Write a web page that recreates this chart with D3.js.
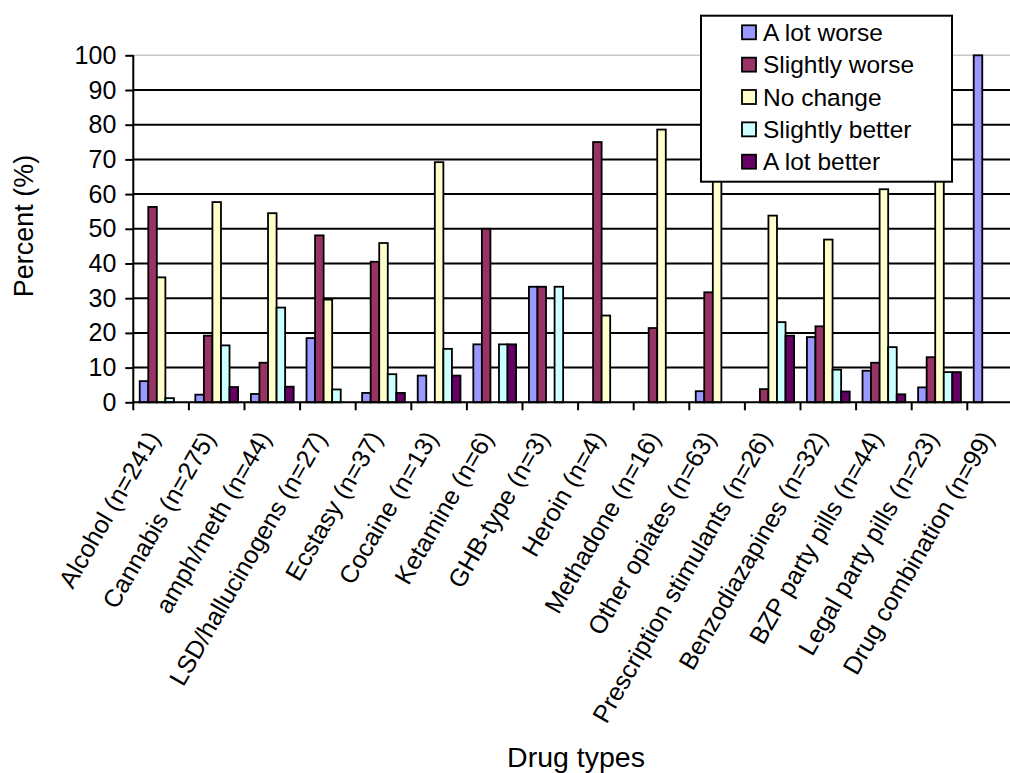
<!DOCTYPE html>
<html>
<head>
<meta charset="utf-8">
<script src="https://cdn.jsdelivr.net/npm/d3@7"></script>
<style>
  html, body { margin: 0; padding: 0; background: #fff; overflow: hidden; }
  svg { display: block; }
  text { font-family: "Liberation Sans", Arial, sans-serif; fill: #000; }
</style>
</head>
<body>
<svg id="chart" width="1010" height="773"></svg>
<script>
const categories = ["Alcohol (n=241)", "Cannabis (n=275)", "amph/meth (n=44)", "LSD/hallucinogens (n=27)",
  "Ecstasy (n=37)", "Cocaine (n=13)", "Ketamine (n=6)", "GHB-type (n=3)", "Heroin (n=4)",
  "Methadone (n=16)", "Other opiates (n=63)", "Prescription stimulants (n=26)",
  "Benzodiazapines (n=32)", "BZP party pills (n=44)", "Legal party pills (n=23)", "Drug combination (n=99)"];

const seriesNames = ["A lot worse", "Slightly worse", "No change", "Slightly better", "A lot better"];

const aLotWorse      = [6.1, 2.2, 2.4, 18.5, 2.7, 7.7, 16.7, 33.3, 0, 0, 3.2, 0, 18.8, 9.1, 4.3, 100];
const slightlyWorse  = [56.3, 19.2, 11.4, 48.1, 40.5, 0, 50.0, 33.3, 75.0, 21.4, 31.7, 3.8, 21.9, 11.4, 13.0, 0];
const noChange       = [36.0, 57.7, 54.5, 29.6, 45.9, 69.2, 0, 0, 25.0, 78.6, 65.1, 53.8, 46.9, 61.4, 65.2, 0];
const slightlyBetter = [1.2, 16.4, 27.3, 3.7, 8.1, 15.4, 16.7, 33.3, 0, 0, 0, 23.1, 9.4, 15.9, 8.7, 0];
const aLotBetter     = [0, 4.4, 4.5, 0, 2.7, 7.7, 16.7, 0, 0, 0, 0, 19.2, 3.1, 2.3, 8.7, 0];

const yTicks = [0, 10, 20, 30, 40, 50, 60, 70, 80, 90, 100];

const seriesValues = [aLotWorse, slightlyWorse, noChange, slightlyBetter, aLotBetter];
const colors = ["#9999FF", "#993366", "#FFFFCC", "#CCFFFF", "#660066"];

const svg = d3.select("#chart");

const plotLeft = 133.3, plotTop = 55.3, plotBottom = 402.3;
const band = 55.6;
const plotRight = plotLeft + band * categories.length;

const x = d3.scaleBand().domain(categories).range([plotLeft, plotRight]).paddingInner(0).paddingOuter(0);
const y = d3.scaleLinear().domain([0, 100]).range([plotBottom, plotTop]);

const barW = x.bandwidth() / 6.5;
const groupOffset = (x.bandwidth() - barW * 5) / 2;
const xs = d3.scaleBand().domain(seriesNames).range([groupOffset, groupOffset + barW * 5]).padding(0);

// plot area border (light grey)
svg.append("rect")
  .attr("x", plotLeft).attr("y", plotTop)
  .attr("width", plotRight - plotLeft).attr("height", plotBottom - plotTop)
  .attr("fill", "none").attr("stroke", "#c8c8c8").attr("stroke-width", 1.5);

// gridlines
svg.append("g").selectAll("line")
  .data(yTicks.filter(t => t > 0 && t < 100))
  .join("line")
  .attr("x1", plotLeft).attr("x2", plotRight)
  .attr("y1", d => y(d)).attr("y2", d => y(d))
  .attr("stroke", "#000").attr("stroke-width", 2);

// bars
const rows = categories.map((c, i) => ({ cat: c, vals: seriesValues.map((s, k) => ({ name: seriesNames[k], v: s[i], k })) }));
const groups = svg.append("g").selectAll("g")
  .data(rows).join("g")
  .attr("transform", d => `translate(${x(d.cat)},0)`);
groups.selectAll("rect")
  .data(d => d.vals.filter(v => v.v > 0))
  .join("rect")
  .attr("x", d => xs(d.name))
  .attr("y", d => y(d.v))
  .attr("width", xs.bandwidth())
  .attr("height", d => y(0) - y(d.v))
  .attr("fill", d => colors[d.k])
  .attr("stroke", "#000").attr("stroke-width", 1.8);

// y axis
const yAxis = d3.axisLeft(y).tickValues(yTicks).tickSize(8).tickPadding(9);
const gy = svg.append("g").attr("transform", `translate(${plotLeft},0)`).call(yAxis);
gy.select(".domain").attr("stroke", "#000").attr("stroke-width", 2).attr("d", `M0,${plotTop}V${plotBottom + 8}`);
gy.selectAll(".tick line").attr("stroke", "#000").attr("stroke-width", 2);
gy.selectAll(".tick text").style("font-size", "25px").attr("font-family", null);

// x axis line
svg.append("line")
  .attr("x1", plotLeft).attr("x2", plotRight)
  .attr("y1", y(0)).attr("y2", y(0))
  .attr("stroke", "#000").attr("stroke-width", 2);

// x ticks at category boundaries
svg.append("g").selectAll("line")
  .data(categories.slice(1))
  .join("line")
  .attr("x1", d => x(d)).attr("x2", d => x(d))
  .attr("y1", y(0)).attr("y2", y(0) + 8)
  .attr("stroke", "#000").attr("stroke-width", 2);

// category labels
svg.append("g").selectAll("text")
  .data(categories)
  .join("text")
  .attr("transform", d => `translate(${x(d) + x.bandwidth() / 2 - 8},${y(0) + 31}) rotate(-60)`)
  .attr("text-anchor", "end")
  .attr("dy", "0.35em")
  .style("font-size", "25px")
  .text(d => d);

// axis titles
svg.append("text")
  .attr("transform", `translate(33,226) rotate(-90)`)
  .attr("text-anchor", "middle")
  .style("font-size", "27px")
  .text("Percent (%)");

svg.append("text")
  .attr("x", 576).attr("y", 767)
  .attr("text-anchor", "middle")
  .style("font-size", "28.5px")
  .text("Drug types");

// legend
const lg = svg.append("g");
lg.append("rect")
  .attr("x", 701).attr("y", 15.7).attr("width", 251).attr("height", 166)
  .attr("fill", "#fff").attr("stroke", "#000").attr("stroke-width", 2);
const items = lg.selectAll("g.item").data(seriesNames).join("g")
  .attr("transform", (d, i) => `translate(742,${32.3 + i * 32.35})`);
items.append("rect")
  .attr("x", 0).attr("y", -7).attr("width", 14).attr("height", 14)
  .attr("fill", (d, i) => colors[i]).attr("stroke", "#000").attr("stroke-width", 1.8);
items.append("text")
  .attr("x", 21).attr("dy", "0.35em")
  .style("font-size", "24.5px")
  .text(d => d);
</script>
</body>
</html>
